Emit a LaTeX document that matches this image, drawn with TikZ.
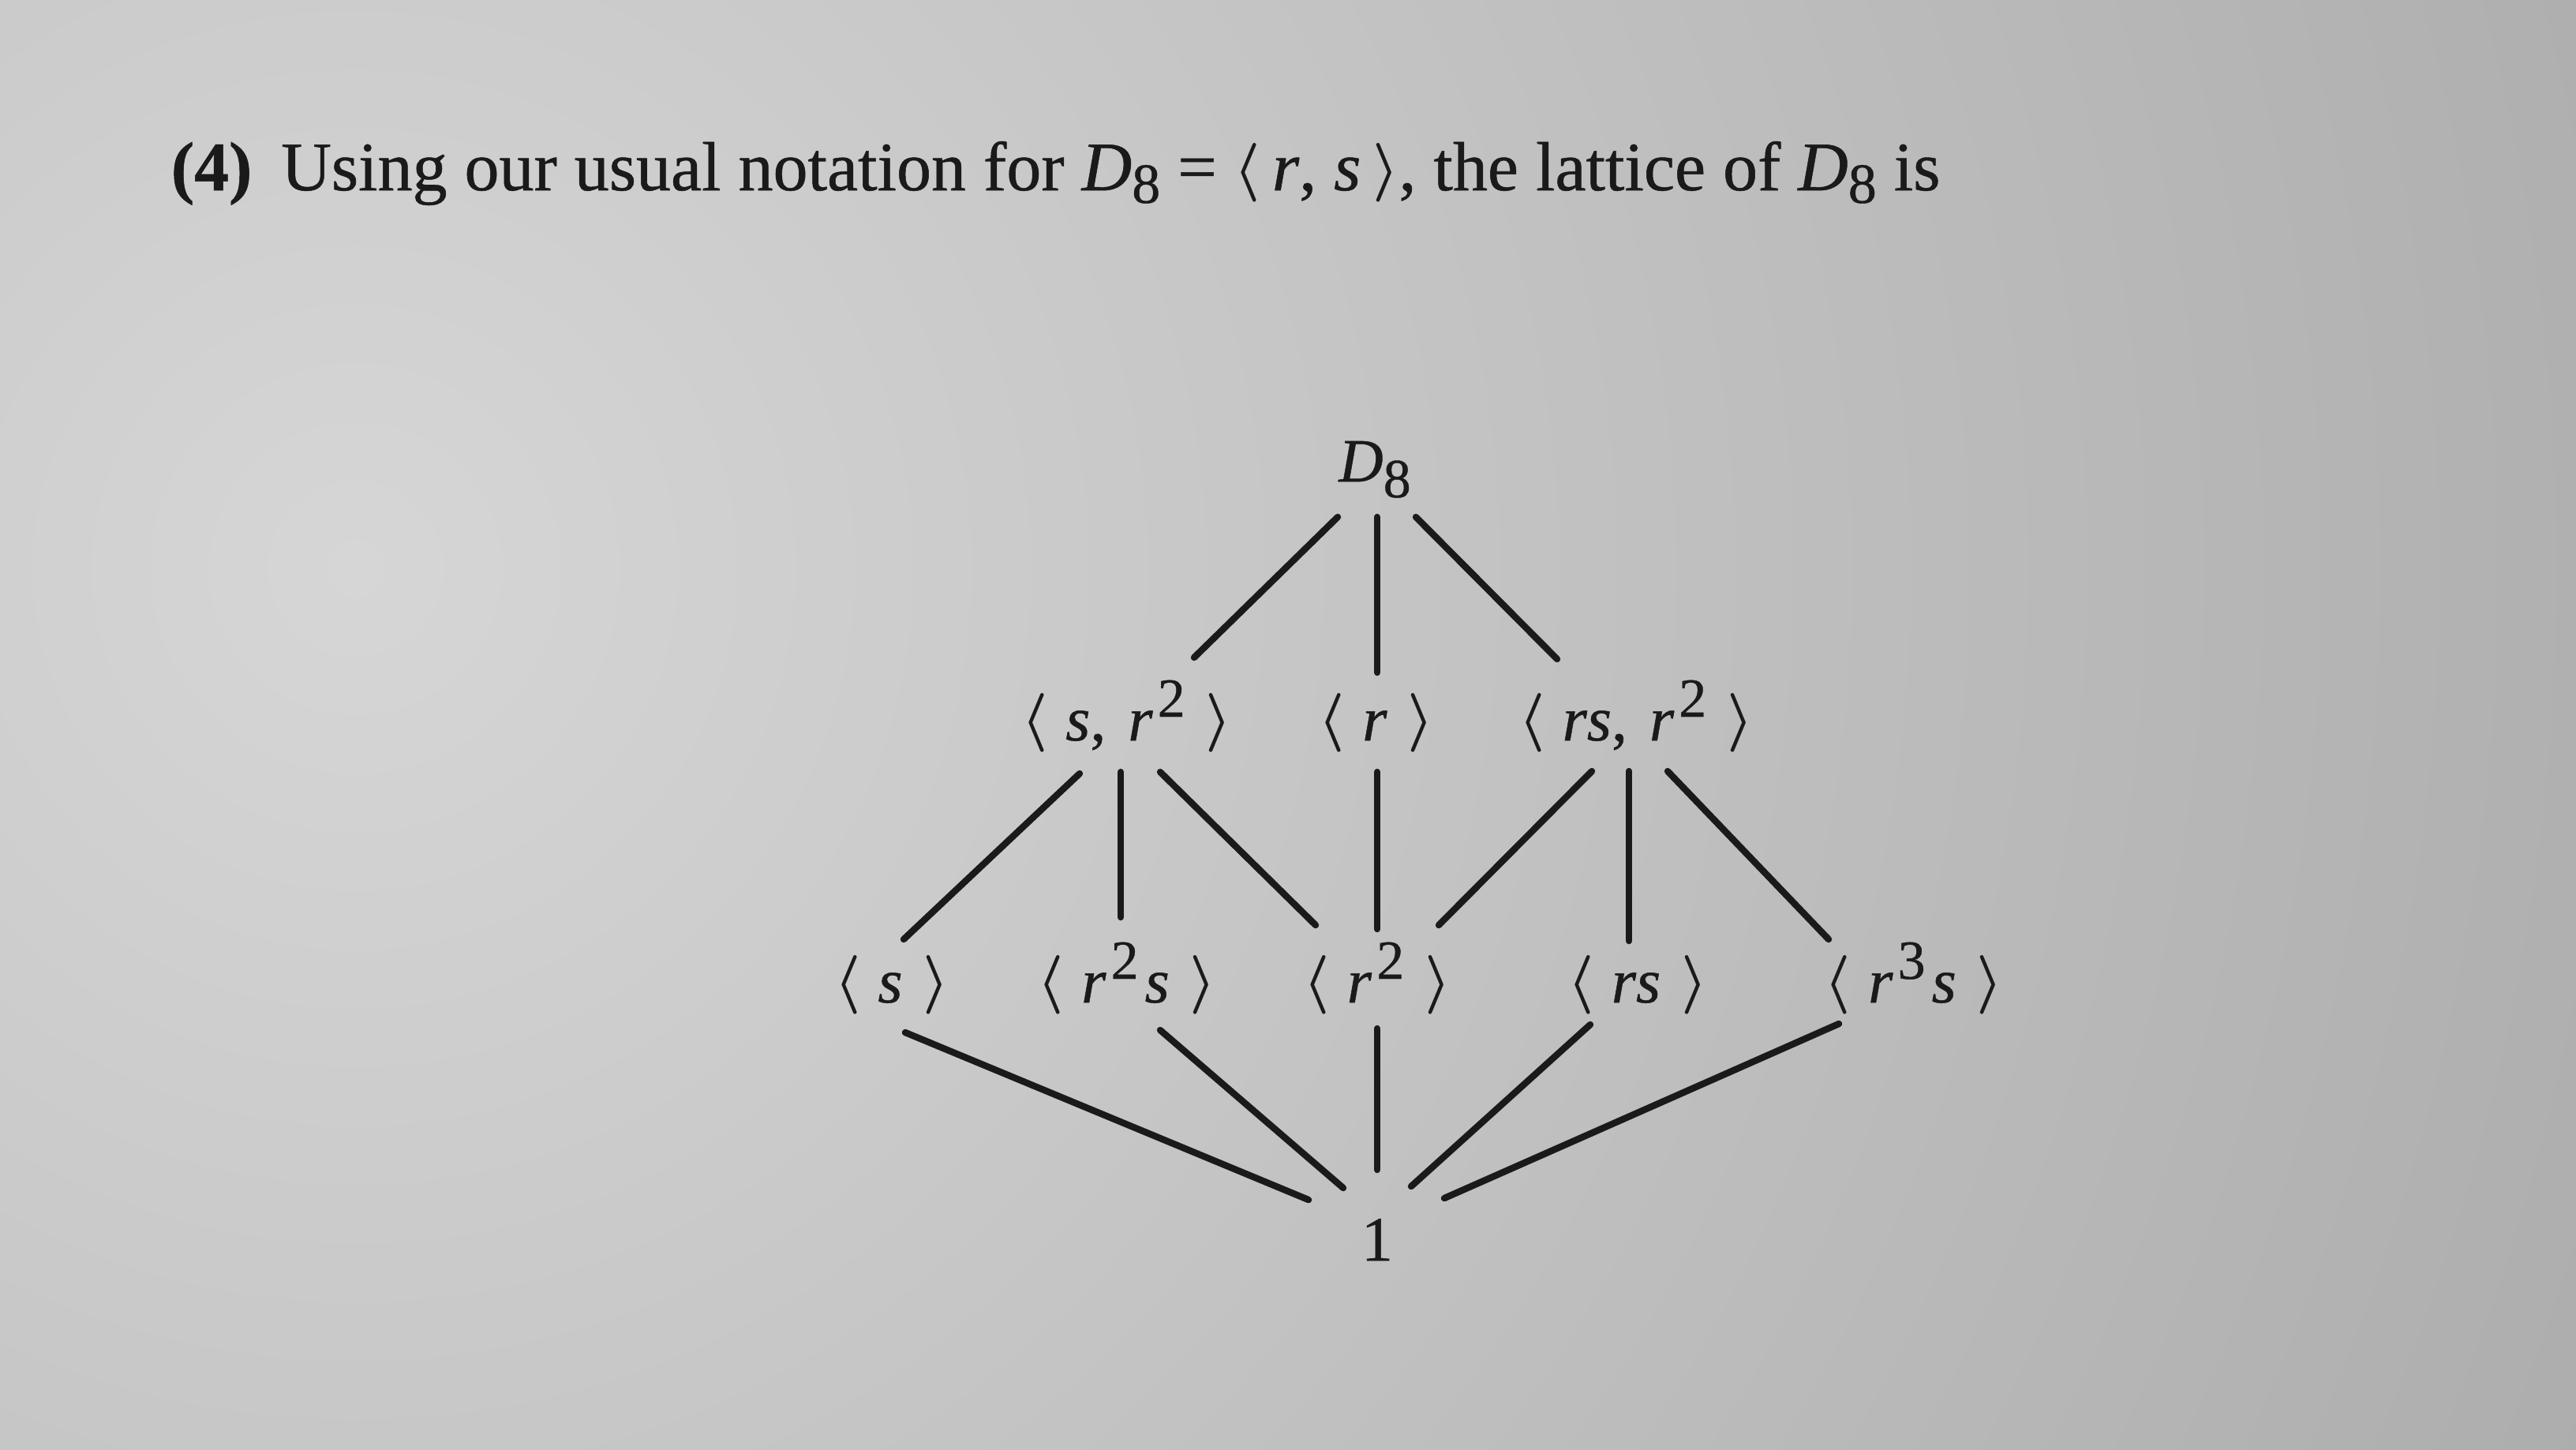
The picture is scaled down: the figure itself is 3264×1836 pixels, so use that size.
\documentclass[tikz,border=0pt]{standalone}
\usepackage{fontspec}
\usepackage{graphicx}
\setmainfont{Liberation Serif}[FakeBold=0.6]
\usetikzlibrary{calc}
\definecolor{ink}{RGB}{26,26,26}
\definecolor{bgin}{RGB}{214,214,214}
\definecolor{bgout}{RGB}{136,136,136}
\newcommand\la{{\fontsize{17.28}{18}\selectfont\boldmath\raisebox{1pt}{\scalebox{1.08}{$\langle$}}}}
\newcommand\ra{{\fontsize{17.28}{18}\selectfont\boldmath\raisebox{1pt}{\scalebox{1.08}{$\rangle$}}}}
\newcommand\vi[1]{\textit{#1}}
\newcommand\su[1]{\hspace{1.5pt}\raisebox{7.5pt}{\fontsize{17.5}{17.5}\selectfont #1}}
\newcommand\lgap{\hspace{5.5pt}}
\newcommand\rgap{\hspace{6.5pt}}
\newcommand\cgap{\hspace{7pt}}
\newcommand\edge[4]{\draw[edge] ($(#1.base)+(#2)$) -- ($(#3.base)+(#4)$);}
\begin{document}
\begin{tikzpicture}[x=0.25pt,y=-0.25pt,
  lab/.style={inner sep=0pt, anchor=base, text=ink, font=\fontsize{20}{20}\selectfont},
  edge/.style={line width=2.1pt, draw=ink, line cap=round}]
\useasboundingbox (0,0) rectangle (3264,1836);
\begin{scope}
  \clip (0,0) rectangle (3264,1836);
  \shade[inner color=bgin, outer color=bgout] (450,720) circle [radius=5800];
\end{scope}
% title
\node[inner sep=0pt, anchor=base west, text=ink, font=\fontsize{22}{22}\selectfont] (title) at (216,241)
  {\textbf{(4)}\hspace{0.42em}Using our usual notation for \vi{D}\raisebox{-4pt}{\fontsize{18}{18}\selectfont 8} = \la\,\vi{r}, \vi{s}\,\ra, the lattice of \vi{D}\raisebox{-4pt}{\fontsize{18}{18}\selectfont 8} is};
% nodes
\node[lab, font=\fontsize{19.5}{19.5}\selectfont] (D8) at (1742,610) {\vi{D}\raisebox{-5pt}{\fontsize{17.5}{17.5}\selectfont 8}};
\node[lab] (s2)  at (1428,938) {\la\lgap\vi{s},\cgap\vi{r}\su{2}\rgap\ra};
\node[lab] (r)   at (1744,938) {\la\lgap\vi{r}\rgap\ra};
\node[lab] (rs2) at (2073,938) {\la\lgap\vi{rs},\cgap\vi{r}\su{2}\rgap\ra};
\node[lab] (s)   at (1130,1270) {\la\lgap\vi{s}\rgap\ra};
\node[lab] (r2s) at (1428,1270) {\la\lgap\vi{r}\su{2}\hspace{2pt}\vi{s}\rgap\ra};
\node[lab] (r2)  at (1745,1270) {\la\lgap\vi{r}\su{2}\rgap\ra};
\node[lab] (rs)  at (2075,1270) {\la\lgap\vi{rs}\rgap\ra};
\node[lab] (r3s) at (2425,1270) {\la\lgap\vi{r}\su{3}\hspace{2pt}\vi{s}\rgap\ra};
\node[lab, font=\fontsize{20}{20}\selectfont] (one) at (1745,1597) {1};
% edges
\edge{D8}{-47,45}{s2}{85,-105}
\edge{D8}{3,45}{r}{1,-86}
\edge{D8}{52,45}{rs2}{-100,-103}
\edge{s2}{-60,42}{s}{15,-80}
\edge{s2}{-8,40}{r2s}{-8,-108}
\edge{s2}{42,40}{r2}{-78,-98}
\edge{r}{1,40}{r2}{0,-93}
\edge{rs2}{-56,39}{r2}{78,-98}
\edge{rs2}{-9,39}{rs}{-11,-78}
\edge{rs2}{40,39}{r3s}{-108,-80}
\edge{s}{17,38}{one}{-87,-77}
\edge{r2s}{42,35}{one}{-43,-92}
\edge{r2}{0,33}{one}{0,-115}
\edge{rs}{-60,28}{one}{43,-94}
\edge{r3s}{-95,27}{one}{85,-79}
\end{tikzpicture}
\end{document}
